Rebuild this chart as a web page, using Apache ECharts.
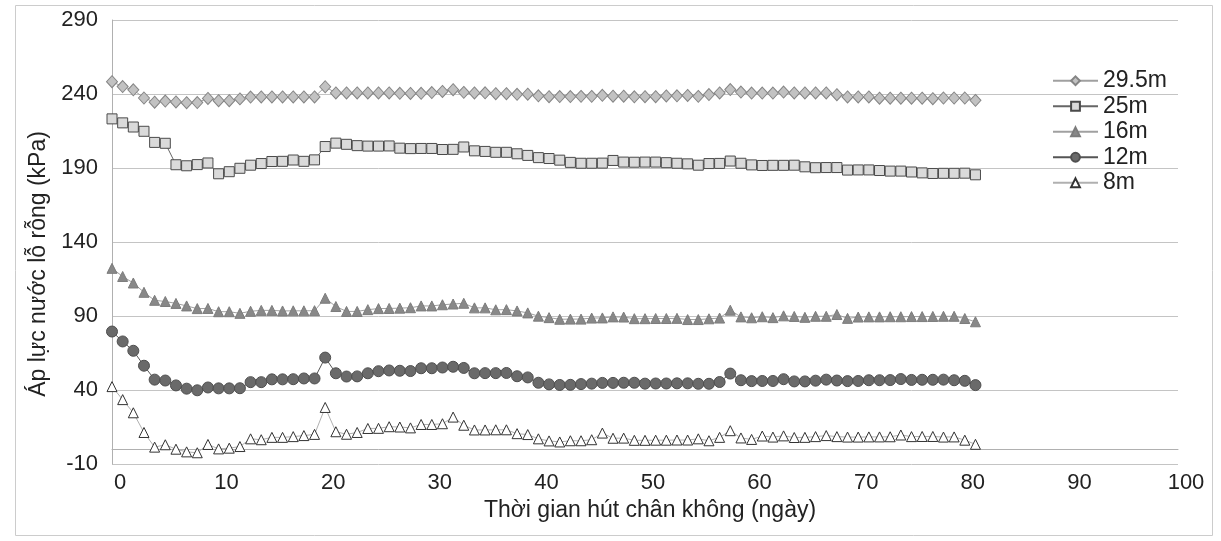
<!DOCTYPE html>
<html>
<head>
<meta charset="utf-8">
<script src="https://cdn.jsdelivr.net/npm/echarts@6/dist/echarts.min.js"></script>
<style>html,body{margin:0;padding:0;background:#fff;}#c{width:1221px;height:541px;}</style>
</head>
<body>
<div id="c"></div>
<script>
var days = [0,1,2,3,4,5,6,7,8,9,10,11,12,13,14,15,16,17,18,19,20,21,22,23,24,25,26,27,28,29,30,31,32,33,34,35,36,37,38,39,40,41,42,43,44,45,46,47,48,49,50,51,52,53,54,55,56,57,58,59,60,61,62,63,64,65,66,67,68,69,70,71,72,73,74,75,76,77,78,79,80,81];
var s295 = [248.3,245,242.8,237.3,234.5,235.2,234.6,234.1,234.2,237,
  235.5,235.5,236.7,237.9,238,238,238,238,238,238,
  244.9,240.7,240.7,240.7,240.7,240.7,240.7,240.5,240.4,240.5,
  241,241.7,242.9,241.1,240.7,240.8,240.2,240.2,239.8,239.9,
  238.8,238.2,238.3,238.3,238.4,238.4,239.1,238.5,238.5,238.1,
  238.2,238.2,238.7,238.8,239,238.4,239.6,240.7,243,241.3,
  240.6,240.6,240.6,241.3,240.7,240.7,240.7,240.7,239.5,238,
  238,238,237.2,237.2,237.2,237.2,237.2,236.8,237.3,237.3,
  237.3,235.7];
var s25 = [223.2,220.5,217.7,214.8,207.3,206.7,192.2,191.5,192.3,193.4,
  186.1,187.5,189.8,191.9,193,194.4,194.5,195.4,194.5,195.5,
  204.5,206.8,206,205.1,204.8,204.8,204.9,203.4,203.1,203.2,
  203.2,202.5,202.6,204.2,201.6,201.2,200.6,200.6,199.6,198.5,
  197,196.4,195.3,193.8,193.2,193.2,193.3,195.1,194,193.9,
  194,194,193.6,193.2,192.8,191.9,193,193.1,194.7,193.2,
  192.1,191.7,191.8,191.8,191.9,190.8,190.2,190.3,190.3,188.6,
  188.7,188.7,188.3,187.9,187.9,187.3,186.7,186.3,186.4,186.4,
  186.5,185.4];
var s16 = [122.2,116.7,112.3,106,100.6,99.8,98.5,96.8,95,95.1,
  92.9,92.9,91.8,93.2,93.8,93.8,93.4,93.5,93.5,93.6,
  102,96.4,93.1,93.1,94.3,95,95.1,95.3,95.6,96.8,
  96.8,97.6,98.1,98.6,95.5,95.5,94.2,94.3,93.4,92.1,
  89.9,88.9,87.8,87.9,87.9,88.6,88.7,89.4,89.3,88.2,
  88.2,88.3,88.3,88.4,87.6,87.6,88.1,88.6,93.9,89.4,
  88.8,89.5,88.9,90.1,89.7,89.1,89.8,89.8,91,88.4,
  89.3,89.4,89.4,89.5,89.5,89.6,89.6,89.7,89.8,89.8,
  88.3,86.1];
var s12 = [79.5,72.8,66.5,56.4,47,46.4,43.1,40.9,39.8,41.7,
  41.1,41.1,41.2,45.3,45.3,47.2,47.2,47.3,47.8,47.8,
  61.9,51.3,49.1,49.2,51.3,52.7,53.2,53,52.8,54.7,
  54.7,55.2,55.7,54.9,51.3,51.4,51.4,51.5,49.3,48.5,
  44.9,43.8,43.4,43.5,44,44.3,44.8,44.8,44.9,44.9,
  44.3,44.4,44.4,44.5,44.5,44.2,44.2,45.4,51.1,46.6,
  46,46.1,46.1,47.3,45.8,45.8,46.3,47,46.4,46,
  46.1,46.6,46.6,46.7,47.4,46.8,46.9,46.9,47,46.6,
  46.2,43.3];
var s8 = [42.3,33.5,24.6,11.3,1.4,3,0,-1.8,-2.4,3.2,
  0.2,0.7,1.8,7,6.4,8,8,8.5,9.2,10,
  28.2,11.8,10.1,11.3,14,14.1,15.2,15,14.4,16.7,
  16.7,17.2,21.7,16.2,13,13,13.1,13.1,10.5,9.9,
  7,5.6,4.9,5.7,5.7,6.4,10.9,7.4,7.5,6,
  6,6.1,6.1,6.2,6.2,7,5.7,8,12.5,7.6,
  6.6,8.9,8.2,9,7.9,8,8.5,9.2,8.5,8.2,
  8.2,8.3,8.3,8.4,9.6,8.5,8.6,8.6,8.2,8.3,
  6.1,3.3];
var seriesNames = ['29.5m','25m','16m','12m','8m'];
var xTicks = [0,10,20,30,40,50,60,70,80,90,100];
var yTicks = [-10,40,90,140,190,240,290];

function pairs(vals){ return days.map(function(d,i){ return [d, vals[i]]; }); }

var font = '"Liberation Sans", Arial, sans-serif';
var chart = echarts.init(document.getElementById('c'), null, {renderer:'canvas'});
chart.setOption({
  animation: false,
  backgroundColor: '#fff',
  graphic: [{
    type: 'rect', left: 13, top: 3, silent: true,
    shape: {width: 1197, height: 530},
    style: {fill: 'none', stroke: '#cccccc', lineWidth: 1}
  }],
  grid: {left: 112, right: 43, top: 20, bottom: 77, containLabel: false},
  legend: {
    orient: 'vertical', left: 1047, top: 64,
    itemWidth: 45, itemHeight: 11, itemGap: 2,
    textStyle: {fontFamily: font, fontSize: 23, color: '#222', lineHeight: 23.5},
    data: seriesNames
  },
  xAxis: {
    type: 'value', min: 0, max: 100, interval: 10,
    axisLine: {show: true, onZero: true, lineStyle: {color: '#b0b0b0', width: 1}},
    axisTick: {show: false},
    splitLine: {show: false},
    axisLabel: {
      fontFamily: font, fontSize: 22, color: '#222', margin: 8,
      padding: [0, 0, 0, 16],
      formatter: function(v){ return xTicks.indexOf(v) >= 0 ? String(v) : ''; }
    },
    name: 'Thời gian hút chân không (ngày)', nameLocation: 'middle', nameGap: 35,
    nameTextStyle: {fontFamily: font, fontSize: 23, color: '#222', padding: [0, 0, 0, 10]}
  },
  yAxis: {
    type: 'value', min: -10, max: 290, interval: 50,
    axisLine: {show: true, lineStyle: {color: '#b0b0b0', width: 1}},
    axisTick: {show: false},
    splitLine: {show: true, lineStyle: {color: '#c4c4c4', width: 1}},
    axisLabel: {
      fontFamily: font, fontSize: 22, color: '#222', margin: 14,
      formatter: function(v){ return yTicks.indexOf(v) >= 0 ? String(v) : ''; }
    },
    name: 'Áp lực nước lỗ rỗng (kPa)', nameLocation: 'middle', nameGap: 52,
    nameTextStyle: {fontFamily: font, fontSize: 23, color: '#222', padding: [0, 44, 0, 0]}
  },
  series: [
    {name: seriesNames[0], type: 'line', data: pairs(s295), symbol: 'diamond', symbolSize: [11, 12],
     lineStyle: {color: '#a0a0a0', width: 1},
     itemStyle: {color: '#c2c2c2', borderColor: '#858585', borderWidth: 1}},
    {name: seriesNames[1], type: 'line', data: pairs(s25), symbol: 'rect', symbolSize: 10,
     lineStyle: {color: '#666', width: 1},
     itemStyle: {color: '#dadada', borderColor: '#4a4a4a', borderWidth: 1}},
    {name: seriesNames[2], type: 'line', data: pairs(s16), symbol: 'triangle', symbolSize: 10,
     lineStyle: {color: '#a0a0a0', width: 1},
     itemStyle: {color: '#888888', borderColor: '#7c7c7c', borderWidth: 1}},
    {name: seriesNames[3], type: 'line', data: pairs(s12), symbol: 'circle', symbolSize: 11,
     lineStyle: {color: '#555', width: 1},
     itemStyle: {color: '#6a6a6a', borderColor: '#4f4f4f', borderWidth: 1}},
    {name: seriesNames[4], type: 'line', data: pairs(s8), symbol: 'triangle', symbolSize: 10,
     lineStyle: {color: '#b0b0b0', width: 1},
     itemStyle: {color: '#ffffff', borderColor: '#333', borderWidth: 1}}
  ]
});
</script>
</body>
</html>
